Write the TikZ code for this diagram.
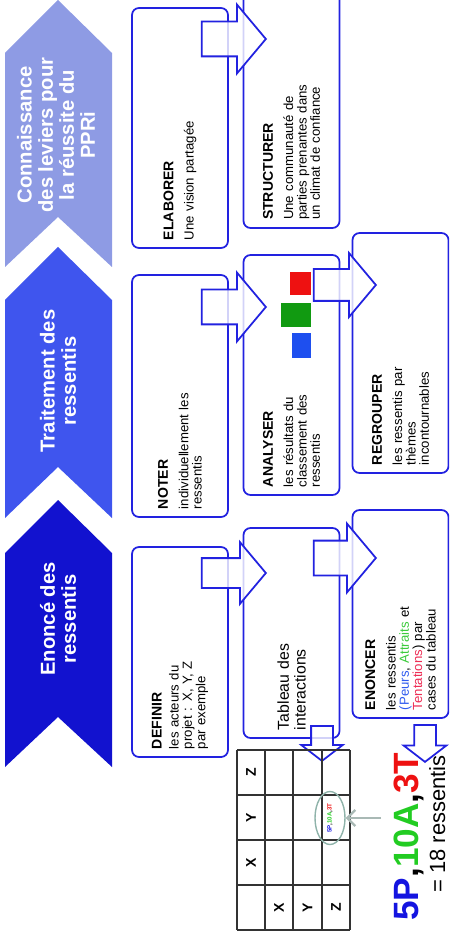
\documentclass[tikz,border=0pt]{standalone}
\usepackage{fontspec}
\setmainfont{Liberation Sans}
\usepackage{xcolor}
\usepackage{tikz}
\usetikzlibrary{arrows.meta, positioning, shapes.geometric, shapes.arrows}
\definecolor{levercol}{HTML}{8E9BE4}
\definecolor{treatcol}{HTML}{3F55EE}
\definecolor{statecol}{HTML}{1212CF}
\definecolor{frame}{HTML}{2222E0}
\definecolor{sqred}{HTML}{EE1111}
\definecolor{sqgreen}{HTML}{119A11}
\definecolor{sqblue}{HTML}{1E4FEF}
\definecolor{pblue}{HTML}{2F5BEF}
\definecolor{agreen}{HTML}{3CCB3C}
\definecolor{tred}{HTML}{EE2D55}
\definecolor{bigblue}{HTML}{1414E0}
\definecolor{biggreen}{HTML}{22CC22}
\definecolor{bigred}{HTML}{EE1111}
\definecolor{pointgrey}{HTML}{A9B9B5}
\definecolor{ringcol}{HTML}{8FB3AA}
\newcommand\steptitle[1]{{\fontsize{8}{8.5}\selectfont\bfseries #1}}
\tikzset{
	chevtext/.style={rotate=90, text=white, align=center,
		font=\fontsize{11.5}{12}\selectfont\bfseries},
	panel/.style={rotate=90, draw=frame, line width=1pt, rounded corners=4pt,
		fill=white, align=left, inner xsep=1.6mm, inner ysep=1mm,
		minimum height=19.2mm, font=\fontsize{7.5}{7.6}\selectfont},
	barrow/.style={single arrow, draw=frame, line width=1pt, fill=white,
		fill opacity=0.8, inner xsep=0pt, anchor=tip},
	cell/.style={rotate=90, font=\fontsize{8}{8}\selectfont\bfseries},
	grid/.style={line width=0.6pt, black!80},
	pointer/.style={-{Straight Barb[length=1.6mm, width=3.2mm]}, line width=1.3pt, pointgrey},
}

\begin{document}
\begin{tikzpicture}[x=0.2mm, y=-0.2mm]
	\clip (0,0) rectangle (449,937);

	% chevrons
	\fill[levercol] (5,53) -- (58,0) -- (112,53) -- (112,267) -- (58,217) -- (5,267) -- cycle;
	\fill[treatcol] (5,300) -- (58,247) -- (112,300) -- (112,518) -- (58,467) -- (5,518) -- cycle;
	\fill[statecol] (5,553) -- (58,500) -- (112,553) -- (112,767) -- (58,717) -- (5,767) -- cycle;
	\node[chevtext] (lever) at (56,135) {Connaissance\\des leviers pour\\la réussite du\\PPRi};
	\node[chevtext] (treat) at (58,381) {Traitement des\\ressentis};
	\node[chevtext] (state) at (58,619) {Enoncé des\\ressentis};

	% boxes
	\node[panel, minimum width=48mm, text width=44.8mm] (elab) at (180,128)
	{\steptitle{ELABORER}\\[4pt] Une vision partagée};
	\node[panel, minimum width=48.4mm, text width=45.2mm] (noter) at (180,396)
	{\steptitle{NOTER}\\[4pt] individuellement les\\ressentis};
	\node[panel, minimum width=42mm, text width=38.8mm] (defin) at (180,652)
	{\steptitle{DEFINIR}\\[2pt] les acteurs du\\projet : X, Y, Z\\par exemple};
	\node[panel, minimum width=48mm, text width=44.8mm] (struct) at (291.5,108)
	{\steptitle{STRUCTURER}\\[4pt] Une communauté de\\parties prenantes dans\\un climat de confiance};
	\node[panel, minimum width=48mm, text width=44.8mm] (analy) at (291.5,375)
	{\steptitle{ANALYSER}\\[4pt] les résultats du\\classement des\\ressentis};
	\node[panel, minimum width=42mm, text width=38.8mm, font=\fontsize{9}{9.5}\selectfont] (tabl) at (291.5,633)
	{Tableau des\\interactions};
	\node[panel, minimum width=48mm, text width=44.8mm] (regr) at (400.5,353)
	{\steptitle{REGROUPER}\\[4pt] les ressentis par\\thèmes\\incontournables};
	\node[panel, minimum width=41.6mm, text width=38.4mm] (enon) at (400.5,614)
	{\steptitle{ENONCER}\\[4pt] les ressentis\\{\color{pblue}(Peurs}, {\color{agreen}Attraits} et\\{\color{tred}Tentations}) par\\cases du tableau};

	% colour marks
	\fill[sqred] (290,272) rectangle (311,295);
	\fill[sqgreen] (281,303) rectangle (311,327);
	\fill[sqblue] (292,333) rectangle (311,358);

	% block arrows
	\node[barrow, minimum height=12.8mm, inner ysep=3.3mm, single arrow head extend=3.4mm,
		single arrow tip angle=100] (a1) at (267,39) {};
	\node[barrow, minimum height=12.8mm, inner ysep=3.3mm, single arrow head extend=3.4mm,
		single arrow tip angle=100] (a2) at (267,307) {};
	\node[barrow, minimum height=12.4mm, inner ysep=3mm, single arrow head extend=3.2mm,
		single arrow tip angle=100] (a3) at (377,285) {};
	\node[barrow, minimum height=12.8mm, inner ysep=2.8mm, single arrow head extend=3.2mm,
		single arrow tip angle=100] (a4) at (267,573) {};
	\node[barrow, minimum height=12.4mm, inner ysep=3.3mm, single arrow head extend=3.4mm,
		single arrow tip angle=100] (a5) at (377,558) {};
	\node[barrow, rotate=-90, minimum height=7mm, inner ysep=2mm, single arrow head extend=2mm,
		single arrow tip angle=105] (d1) at (322,762) {};
	\node[barrow, rotate=-90, minimum height=7.4mm, inner ysep=2mm, single arrow head extend=2.1mm,
		single arrow tip angle=105] (d2) at (425,763) {};

	% table
	\foreach \gx in {237,265,293,322,350}
		\draw[grid] (\gx,750) -- (\gx,930);
	\foreach \gy in {750,795,840,885,930}
		\draw[grid] (237,\gy) -- (350,\gy);
	\foreach \lab [count=\i] in {Z,Y,X}
		\node[cell] (row\lab) at (251,727.5+45*\i) {\lab};
	\foreach \lab/\cx in {X/279,Y/307.5,Z/336}
		\node[cell] (col\lab) at (\cx,907.5) {\lab};
	\node[ellipse, draw=ringcol, line width=0.8pt, rotate=90, minimum width=10.6mm,
		minimum height=6mm, inner sep=0pt, font=\fontsize{3.5}{4}\selectfont\bfseries] (ring) at (330,818)
	{{\color{bigblue}5P},{\color{biggreen}10A},{\color{bigred}3T}};
	\coordinate (ptr) at (381,818);
	\draw[pointer] (ptr) -- (ring);

	% totals
	\node[rotate=90, anchor=base west, inner sep=0pt, font=\fontsize{20}{20}\selectfont\bfseries] (total) at (418,921)
	{{\color{bigblue}5P},{\color{biggreen}10A},{\color{bigred}3T}};
	\node[rotate=90, anchor=base west, inner sep=0pt, font=\fontsize{12.5}{13}\selectfont] (sum) at (445,893)
	{= 18 ressentis};
\end{tikzpicture}
\end{document}
